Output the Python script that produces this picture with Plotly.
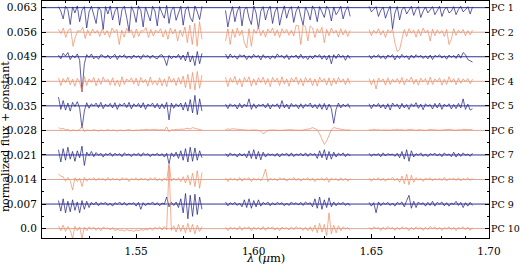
import numpy as np
import plotly.graph_objects as go

# wavelength coverage of the three detector chips (micron)
seg_ranges = [(1.517, 1.578), (1.588, 1.641), (1.649, 1.693)]

pc_labels = ["PC 1", "PC 2", "PC 3", "PC 4", "PC 5", "PC 6", "PC 7", "PC 8", "PC 9", "PC 10"]
offsets = [0.063, 0.056, 0.049, 0.042, 0.035, 0.028, 0.021, 0.014, 0.007, 0.0]
y_tick_text = ["0.063", "0.056", "0.049", "0.042", "0.035", "0.028", "0.021", "0.014", "0.007", "0.0"]
x_tick_vals = [1.55, 1.60, 1.65, 1.70]
x_tick_text = ["1.55", "1.60", "1.65", "1.70"]

# spectra, in units of 1e-4 flux relative to each offset
pc1 = [
    [3,-10,-32,4,-6,-48,2,-15,5,-40,-8,3,-58,-12,4,-22,-45,2,-8,-62,3,-18,5,-35,-10,2,-50,-6,4,-28,-68,3,-12,-42,5,-8,-55,2,-20,-38,4,-10,-52,3,-15,-30,6,-45,-8,2,-36,-14,4,-50,-6,3,-28,-40,5,-12,-34,4],
    [-8,-55,-20,3,-40,-10,4,-52,-6,2,-30,-48,5,-15,-60,-10,3,-35,-8,4,-45,-12,2,-50,-18,5,-30,-6,3,-42,-10,4,-25,-50,2,-12,-35,5,-8,-40,3,-15,-28,4,-6,-38,2,-20,-10,4,-32,-8,3,-25],
    [4,-12,-5,3,-25,-8,2,-30,-10,4,-60,-15,3,-35,-6,2,-18,-8,4,-22,-5,3,-28,-10,2,-15,-4,3,-20,-8,4,-25,-6,2,-15,-10,3,-20,-5,4,-12,-6,3,-18,2],
]
pc2 = [
    [8,-4,12,-15,6,10,-40,-12,5,2,14,-18,7,-10,9,-3,6,-12,10,-8,5,-15,12,0,8,-35,6,-14,11,-2,7,-16,9,-12,5,3,13,-15,8,-11,6,-2,10,-14,7,-20,12,-5,9,-25,6,-12,15,-30,20,-35,25,-40,30,-20],
    [-25,10,-35,8,-15,12,-10,6,-30,-45,10,-40,8,-4,15,-10,6,-14,9,-2,12,-10,7,-15,10,-3,8,-9,6,-11,20,18,-35,22,15,-25,18,12,-15,10,-2,14,-30,8,-10,12,-3,6,-14,10,-8,7,-12,5],
    [8,-10,6,-4,10,-8,5,-15,7,-2,9,-30,-55,-50,-20,8,-12,10,-3,6,-14,8,-10,12,-2,6,-25,9,-10,7,-4,5,-12,8,-35,-20,10,-9,6,-3,8,-10,5,-8,6],
]
pc3 = [
    [5,-6,10,2,12,-8,4,-3,8,-10,-100,-20,6,-2,8,-6,1,-7,6,3,-4,5,-6,0,7,-8,4,-1,6,-5,2,-6,5,-2,3,-7,6,0,4,-5,5,-3,-6,4,6,-5,-25,4,-6,2,-3,7,-8,5,-12,14,-15,3,-25,15,-20,10],
    [8,-6,8,-2,3,-7,6,1,5,-8,3,-5,7,-1,4,-9,6,-4,2,-7,3,-5,8,0,4,-5,6,-8,3,-1,5,-6,7,-5,1,-8,3,-6,5,0,6,-7,4,-9,5,-20,6,-5,8,-2,4,-10,5,-6],
    [5,-6,4,-1,6,-5,3,-7,5,0,6,-9,4,-5,7,-2,3,-8,5,-4,6,-1,4,-5,3,-6,5,-8,4,0,6,-4,3,-7,5,-2,4,-5,8,-4,12,6,-8,-12,-15],
]
pc4 = [
    [10,-12,8,-4,12,-10,6,-14,9,-2,-30,14,-12,7,-3,11,-13,8,-9,12,-2,6,-11,10,-12,3,-15,13,-9,7,-1,10,-8,9,-13,11,-4,6,-14,12,-9,2,-11,10,-13,7,-15,14,-3,9,-12,11,-8,15,-18,20,-22,25,-25,28,-20,18],
    [12,-15,10,-3,14,-10,8,-16,11,-2,13,-14,7,-11,10,-4,12,-9,8,-15,11,-1,9,-12,13,-8,7,-14,10,-2,12,-9,8,-13,11,-3,9,-12,7,-14,12,-1,8,-11,10,-13,9,-8,11,-3,7,-10,9,-8],
    [8,-10,6,-22,9,-2,7,-11,10,-9,6,-3,8,-7,11,-10,7,-1,12,-8,6,-11,9,-2,8,-10,12,-9,7,-2,10,-11,6,-9,13,-3,8,-10,9,-6,7,-1,8,-7,6],
]
pc5 = [
    [25,-10,15,-12,8,-15,10,-2,12,-6,-63,-15,9,-7,6,-1,8,-5,10,-8,5,-2,7,-6,9,-10,6,0,8,-5,10,-9,6,-2,7,-6,9,-10,5,0,8,-6,7,-9,6,-8,10,-40,8,-7,6,-2,8,-12,10,-15,18,-20,30,-25,20,-15],
    [5,-8,6,-1,4,-9,7,-6,5,-2,20,-10,6,-7,4,0,5,-6,7,-9,4,-1,6,-8,15,-6,5,-9,7,-2,4,-8,6,-7,5,-1,8,-6,4,-8,6,-10,7,-12,5,-8,-50,-10,8,-6,5,-2,6,-7],
    [6,-8,5,-2,7,-6,4,-9,6,-12,8,-1,5,-9,7,-6,4,-10,6,-2,9,-7,5,-11,6,-1,4,-9,7,-6,8,-10,5,-2,6,-9,4,-8,7,-6,20,-10,5,-12,-8],
]
pc6 = [
    [8,4,6,2,3,-2,1,0,-1,2,12,-3,1,0,-1,2,0,-2,1,-1,0,2,-1,1,0,-2,1,0,-1,1,2,0,-1,1,0,2,1,3,2,1,3,2,0,1,2,1,10,-4,2,1,3,2,4,3,5,6,4,8,6,5,3,1],
    [2,4,3,5,4,3,2,1,0,-1,0,1,2,1,0,-2,-10,-4,0,1,2,1,0,-1,0,1,2,3,2,1,0,-1,0,1,2,3,5,8,6,2,-10,-25,-40,-30,-12,2,8,6,4,3,2,1,2,1],
    [2,1,3,1,2,0,1,2,1,0,2,1,3,1,2,0,1,2,3,1,0,2,1,2,0,1,3,2,1,2,0,1,2,1,3,2,1,0,2,1,3,2,1,2,3],
]
pc7 = [
    [15,-20,18,-15,22,-12,10,-18,12,-8,25,-30,8,-2,10,-5,7,-1,5,-6,4,0,6,-4,5,-1,4,-5,6,0,3,-5,4,-1,5,-4,6,0,4,-5,3,-1,5,-3,4,-6,5,-25,6,-5,8,-10,12,-15,18,-20,22,-18,20,-15,12,-8],
    [4,-5,6,-1,3,-6,5,-3,4,-8,12,-10,15,-12,10,-14,8,-6,4,-1,3,-4,5,-6,4,0,5,-4,6,-5,3,-1,5,-3,6,-4,5,0,4,-10,12,-8,15,-14,10,-12,8,-6,5,-1,6,-5,4,-3],
    [5,-4,3,-1,4,-5,6,-3,4,0,3,-4,5,-8,10,-12,15,-18,12,-6,4,-1,6,-4,3,-5,4,0,5,-3,4,-5,6,-1,3,-5,8,-6,5,-4,6,-1,3,-4,5],
]
pc8 = [
    [15,10,8,-5,6,-4,-30,5,-6,4,-20,6,-5,3,-1,5,-3,4,0,3,-4,6,-3,4,-1,3,-4,5,0,4,-6,3,-1,5,-3,4,0,3,-4,5,-1,6,-4,3,-5,4,-3,45,-5,4,-3,5,-6,8,-10,12,-15,18,-20,25,-25,20],
    [5,-6,4,-1,3,-4,6,-5,4,0,5,-6,4,-2,3,-4,8,30,-6,4,-1,3,-4,5,0,4,-5,3,-1,6,-3,4,-5,3,0,5,-3,4,-6,3,-1,5,-3,6,-8,4,-1,3,-4,5,-3,4,-5,3],
    [4,-5,3,-1,5,-3,4,-5,3,0,6,-3,4,-8,10,-12,15,-15,12,-8,5,-1,3,-5,4,0,5,-4,3,-1,4,-3,6,-4,3,0,4,-3,5,-4,3,-1,5,-3,4],
]
pc9 = [
    [10,-20,15,-25,8,-22,12,-18,6,-25,10,-15,8,-10,5,-2,6,-5,4,0,5,-4,3,-6,4,-1,6,-3,5,-4,3,0,4,-6,5,-15,4,-5,3,-1,6,-3,4,-5,3,0,20,-8,5,-4,6,-10,15,-25,30,-42,25,-35,28,-30,20,-15],
    [6,-5,4,-1,5,-4,3,-8,12,-10,15,-12,10,-8,12,-6,5,-1,6,-5,4,-3,5,0,4,-5,3,-4,6,-1,4,-3,5,-4,6,0,4,-8,15,-12,20,-15,12,-10,18,-8,6,-5,4,-1,5,-4,3,-5],
    [5,-6,4,-25,6,-5,4,-1,5,-4,3,-6,5,0,6,-8,10,25,-12,8,-10,6,-1,4,-6,5,-4,8,-6,5,0,6,-5,4,-6,3,-1,8,-4,5,-10,4,-6,5,-4],
]
pc10 = [
    [8,-6,10,-8,6,-5,-28,7,-6,5,-28,4,-6,5,-1,4,-5,3,-6,4,0,2,-4,3,-6,-2,-5,-4,-7,-3,-6,-5,-8,-4,-6,-3,-5,-2,-4,3,-5,4,-1,5,-4,6,-3,180,-5,8,-10,12,-8,10,-12,15,-10,12,-15,10,-8,6],
    [5,-6,4,-1,3,-4,6,-5,4,0,5,-6,4,-2,3,-4,6,-5,4,0,5,-4,3,-6,4,-1,3,-4,5,-3,6,0,3,-5,4,-6,5,-8,10,-12,15,-10,12,-20,45,-15,10,-12,8,-6,5,-1,3,-5],
    [4,-3,5,0,3,-5,4,-3,6,-1,3,-5,4,-3,5,0,3,-6,4,-3,5,-1,3,-5,4,-3,6,0,5,-3,4,-5,3,-1,5,-3,4,-6,3,0,5,-3,4,-5,3],
]
spectra = [pc1, pc2, pc3, pc4, pc5, pc6, pc7, pc8, pc9, pc10]

NAVY = "#1b1b84"
SALMON = "#ef8a62"
X_RANGE = [1.51, 1.70]
Y_RANGE = [-0.00268, 0.0649]

fig = go.Figure()

for i, (spec, off) in enumerate(zip(spectra, offsets)):
    color = NAVY if i % 2 == 0 else SALMON
    base_color = "rgba(27,27,132,0.9)" if i % 2 == 0 else "rgba(215,150,130,0.85)"
    fig.add_trace(go.Scatter(x=X_RANGE, y=[off, off], mode="lines",
                             line=dict(color=base_color, width=1), hoverinfo="skip", showlegend=False))
    xs, ys = [], []
    for (lo, hi), seg in zip(seg_ranges, spec):
        wl = np.linspace(lo, hi, len(seg))
        xs.extend(wl.tolist()); xs.append(None)
        ys.extend([off + v * 1e-4 for v in seg]); ys.append(None)
    fig.add_trace(go.Scatter(x=xs, y=ys, mode="lines", line=dict(color=color, width=0.7),
                             showlegend=False, connectgaps=False))

FONT = "DejaVu Serif"
L, R, T, B = 42, 31, 1, 27
W, H = 520, 265
pw, ph = W - L - R, H - T - B

fig.update_layout(
    width=W, height=H, margin=dict(l=L, r=R, t=T, b=B, autoexpand=False),
    paper_bgcolor="white", plot_bgcolor="white",
    font=dict(family=FONT, size=10.5, color="black"),
    showlegend=False,
)
fig.update_xaxes(range=X_RANGE, tickvals=x_tick_vals, ticktext=x_tick_text, automargin=False,
                 ticks="inside", ticklen=4, tickcolor="black", showline=True, linecolor="black",
                 linewidth=1, mirror="allticks", showgrid=False, zeroline=False, ticklabelstandoff=3,
                 minor=dict(dtick=0.01, tick0=1.5, ticks="inside", ticklen=2, tickcolor="black", showgrid=False),
                 tickfont=dict(family=FONT, size=10.5))
fig.update_yaxes(range=Y_RANGE, tickvals=offsets, ticktext=y_tick_text, automargin=False,
                 ticks="inside", ticklen=4, tickcolor="black", showline=True, linecolor="black",
                 linewidth=1, mirror="allticks", showgrid=False, zeroline=False, ticklabelstandoff=2,
                 minor=dict(dtick=0.0035, tick0=0, ticks="inside", ticklen=2, tickcolor="black", showgrid=False),
                 tickfont=dict(family=FONT, size=10.5))

for lab, off in zip(pc_labels, offsets):
    fig.add_annotation(text=lab, xref="paper", yref="y", x=1.0, y=off, xanchor="left", yanchor="middle",
                       xshift=0, showarrow=False, font=dict(family=FONT, size=9.5, color="black"))

fig.add_annotation(text="normalized flux + constant", xref="paper", yref="paper",
                   x=-(L - 5) / pw, y=1 - (137 - T) / ph, textangle=-90, showarrow=False,
                   xanchor="center", yanchor="middle", font=dict(family=FONT, size=11))
fig.add_annotation(text="<i>λ</i> (<i>μ</i>m)", xref="paper", yref="paper",
                   x=0.5, y=-(258 - (H - B)) / ph, showarrow=False,
                   xanchor="center", yanchor="middle", font=dict(family=FONT, size=11.5))

fig.write_html("out.html", config={"displayModeBar": False},
               post_script="document.body.style.margin='0';document.body.style.overflow='hidden';")
